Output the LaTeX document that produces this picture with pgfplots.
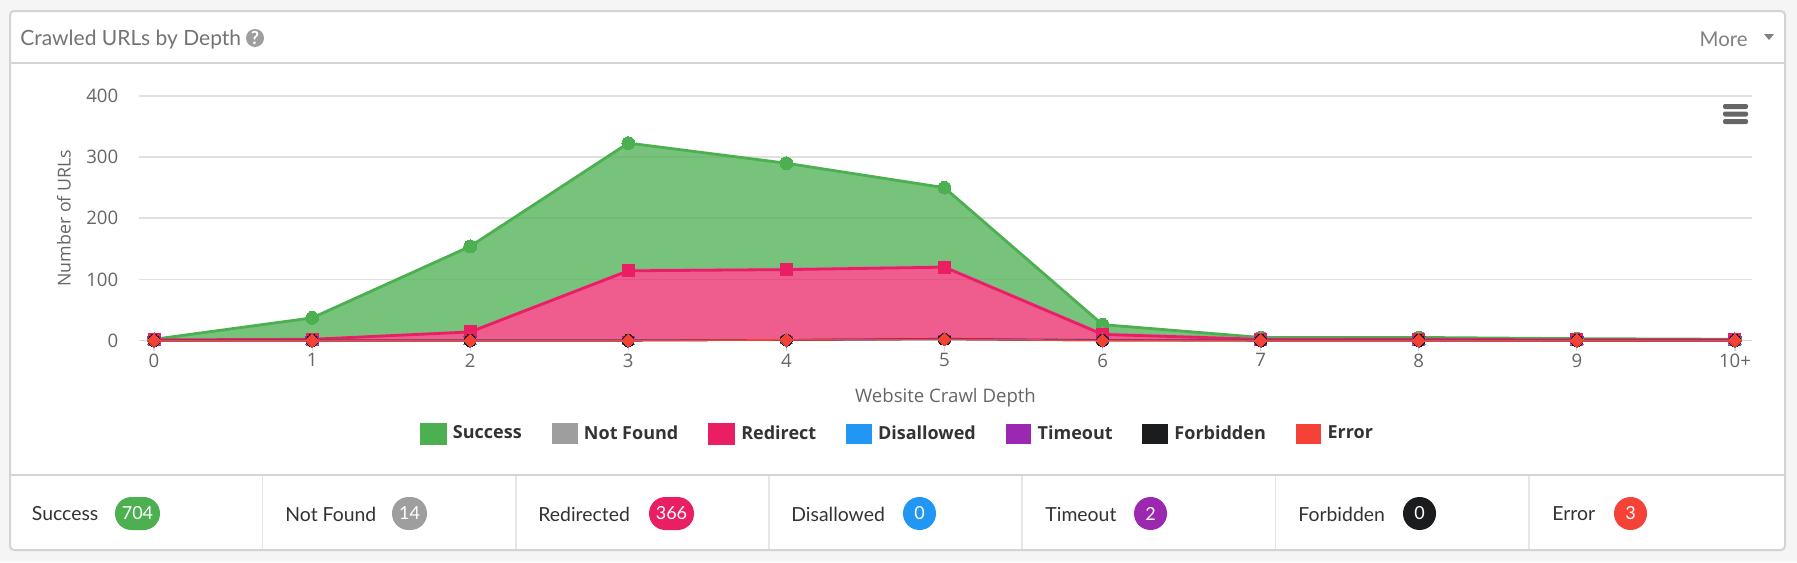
\documentclass[border=0pt]{standalone}
\usepackage{fontspec}
\setmainfont{Lato}
\newfontfamily\chartfont{Open Sans}
\usepackage{pgfplots}
\usepackage{pgfplotstable}
\pgfplotsset{compat=1.18}
\usepgfplotslibrary{fillbetween}

\definecolor{csuccess}{HTML}{4CAF50}
\definecolor{cnotfound}{HTML}{9E9E9E}
\definecolor{credirect}{HTML}{E91E63}
\definecolor{cdisallowed}{HTML}{2196F3}
\definecolor{ctimeout}{HTML}{9C27B0}
\definecolor{cforbidden}{HTML}{1B1C1D}
\definecolor{cerror}{HTML}{F44336}
\definecolor{pageback}{HTML}{F5F5F5}
\definecolor{panelline}{HTML}{D4D4D5}
\definecolor{cellline}{HTML}{E6E6E6}
\definecolor{gridc}{HTML}{E0E0E0}
\definecolor{axisc}{HTML}{CCD6EB}
\definecolor{labelc}{HTML}{666666}

% the panel sits under the grid and the fills
\pgfplotsset{
  layers/withpanel/.define layer set={panel,axis background,axis grid,axis ticks,axis lines,axis tick labels,pre main,main,axis descriptions,axis foreground}{},
}

% top edge of every series as it stands in the stacked picture
\pgfplotstableread{
depth success notfound redirect disallowed timeout forbidden error
0     2       1        1        0          0       0         0
1     37      2        2        0          0       0         0
2     154     15       14       0          0       0         0
3     323     116      114      0          0       0         0
4     290     118      116      1          1       1         1
5     250     122      120      3          3       2         2
6     26      12       10       1          1       0         0
7     5       3        2        0          0       0         0
8     5       2        2        0          0       0         0
9     3       1        1        0          0       0         0
10    2       1        1        0          0       0         0
}\crawldata

\newcommand{\statcell}[6]{% text x, label, badge left, badge right, colour, number
  \node[anchor=west,inner sep=0pt,text=black!80,font=\fontsize{9.7}{11}\selectfont] at (#1,514) {#2};
  \fill[#5,rounded corners=8.2pt] (#3,497) rectangle (#4,530);
  \node[text=white,inner sep=0pt,font=\fontsize{9}{11}\selectfont] at ({(#3+#4)/2},513.5) {#6};
}

\begin{document}
\begin{tikzpicture}
\pgfplotsset{set layers=withpanel}
\begin{pgfonlayer}{panel}
\fill[pageback] (0pt,0pt) rectangle (898.5pt,-281pt);
\begin{scope}[x=0.5pt,y=-0.5pt]
  % panel
  \fill[white,rounded corners=2pt] (10,11) rectangle (1785,550);
  \draw[panelline,line width=1pt,rounded corners=2pt] (10,11) rectangle (1785,550);
  \draw[panelline,line width=1pt] (10,63) -- (1785,63);
  \draw[panelline,line width=1pt] (10,475) -- (1785,475);
  \foreach \x in {262.5,516,769,1022,1275.5,1529}
    \draw[cellline,line width=0.6pt] (\x,476) -- (\x,549);
  % header
  \node[anchor=west,inner sep=0pt,text=black!55,font=\fontsize{10.5}{12}\selectfont] at (20,40) {Crawled URLs by Depth};
  \fill[cnotfound] (255,38) circle (9);
  \node[text=white,inner sep=0pt,font=\fontsize{9}{11}\selectfont\bfseries] at (255,38) {?};
  \node[anchor=east,inner sep=0pt,text=black!50,font=\fontsize{10.2}{12}\selectfont] at (1748,39) {More};
  \fill[black!50] (1764,34) -- (1774,34) -- (1769,40) -- cycle;
  % export menu
  \foreach \y in {106.5,114,121.5}
    \fill[black!60,rounded corners=1pt] (1723,\y-2.5) rectangle (1748,\y+2.5);
  % totals row
  \statcell{31.5}{Success}{115}{160}{csuccess}{704}
  \statcell{285}{Not Found}{392}{427}{cnotfound}{14}
  \statcell{538}{Redirected}{649}{694}{credirect}{366}
  \statcell{791}{Disallowed}{903}{936}{cdisallowed}{0}
  \statcell{1045}{Timeout}{1134}{1167}{ctimeout}{2}
  \statcell{1298}{Forbidden}{1403}{1436}{cforbidden}{0}
  \statcell{1552}{Error}{1614}{1647}{cerror}{3}
\end{scope}
\end{pgfonlayer}

\begin{axis}[
    set layers=withpanel,
    at={(69.5pt,-170.25pt)},
    anchor=south west,
    scale only axis,
    width=806.5pt,
    height=122.25pt,
    xmin=-0.0949, xmax=10.108,
    ymin=0, ymax=400,
    clip=false,
    axis x line*=bottom,
    axis y line*=left,
    x axis line style={draw=axisc,line width=0.8pt,-},
    y axis line style={draw=none,-},
    xtick={0,1,2,3,4,5,6,7,8,9,10},
    xticklabels={0,1,2,3,4,5,6,7,8,9,10+},
    ytick={0,100,200,300,400},
    ymajorgrids,
    grid style={gridc,line width=0.8pt},
    tick align=outside,
    major tick length=5pt,
    xtick style={draw=axisc,line width=0.6pt},
    ytick style={draw=none},
    /pgf/number format/assume math mode=true,
    tick label style={font=\chartfont\fontsize{9.3}{10}\selectfont,text=labelc},
    xticklabel style={inner sep=0pt,yshift=-1.4pt},
    yticklabel style={inner sep=0pt,xshift=-5.2pt},
    xlabel={Website Crawl Depth},
    ylabel={Number of URLs},
    every axis x label/.style={at={(axis description cs:0.5,-0.233)},anchor=center,font=\chartfont\fontsize{9.3}{10}\selectfont,text=labelc},
    every axis y label/.style={at={(axis description cs:-0.0465,0.5)},anchor=center,rotate=90,font=\chartfont\fontsize{8.9}{10}\selectfont,text=labelc},
    swatch/.style={legend image code/.code={\fill[fill=#1] (0pt,-4.75pt) rectangle (12pt,4.75pt);}},
    series/.style={color=#1,mark options={solid,fill=#1,draw=#1,line width=0pt},mark size=3.2pt},
    legend columns=7,
    legend cell align=left,
    legend style={
        at={(axis description cs:0.4708,-0.382)},
        anchor=center,draw=none,fill=none,
        font=\chartfont\fontsize{9}{10}\selectfont\bfseries,
        text=black!80,
        inner sep=0pt,
        /tikz/every odd column/.append style={column sep=1.2pt},
        /tikz/every even column/.append style={column sep=12.9pt},
    },
]
% outlines for the fills come first, so the fills lie under lines and marks
\addplot[name path=succ,draw=none,forget plot] table[x=depth,y=success] {\crawldata};
\addplot[name path=nf,draw=none,forget plot] table[x=depth,y=notfound] {\crawldata};
\addplot[name path=redir,draw=none,forget plot] table[x=depth,y=redirect] {\crawldata};
\addplot[name path=dis,draw=none,forget plot] table[x=depth,y=disallowed] {\crawldata};
\addplot[csuccess,fill opacity=0.75,draw=none,forget plot] fill between[of=succ and nf,on layer=main];
\addplot[cnotfound,fill opacity=0.75,draw=none,forget plot] fill between[of=nf and redir,on layer=main];
\addplot[credirect,fill opacity=0.72,draw=none,forget plot] fill between[of=redir and dis,on layer=main];

\addplot[series=csuccess,swatch=csuccess,line width=1.4pt,mark=*] table[x=depth,y=success] {\crawldata};
\addlegendentry{Success}
\addplot[series=cnotfound,swatch=cnotfound,line width=1pt,mark=diamond*] table[x=depth,y=notfound] {\crawldata};
\addlegendentry{Not Found}
\addplot[series=credirect,swatch=credirect,line width=1.4pt,mark=square*,mark size=3pt] table[x=depth,y=redirect] {\crawldata};
\addlegendentry{Redirect}
\addplot[series=cdisallowed,swatch=cdisallowed,line width=0.8pt,mark=triangle*,mark size=3.6pt] table[x=depth,y=disallowed] {\crawldata};
\addlegendentry{Disallowed}
\addplot[series=ctimeout,swatch=ctimeout,line width=0.8pt,mark=triangle*,mark size=3.6pt,every mark/.append style={rotate=180}] table[x=depth,y=timeout] {\crawldata};
\addlegendentry{Timeout}
\addplot[series=cforbidden,swatch=cforbidden,line width=0.8pt,mark=*,mark size=3pt] table[x=depth,y=forbidden] {\crawldata};
\addlegendentry{Forbidden}
\addplot[series=cerror,swatch=cerror,line width=0.8pt,mark=square*,mark size=2.35pt,every mark/.append style={rotate=45}] table[x=depth,y=error] {\crawldata};
\addlegendentry{Error}
\end{axis}
\end{tikzpicture}
\end{document}
